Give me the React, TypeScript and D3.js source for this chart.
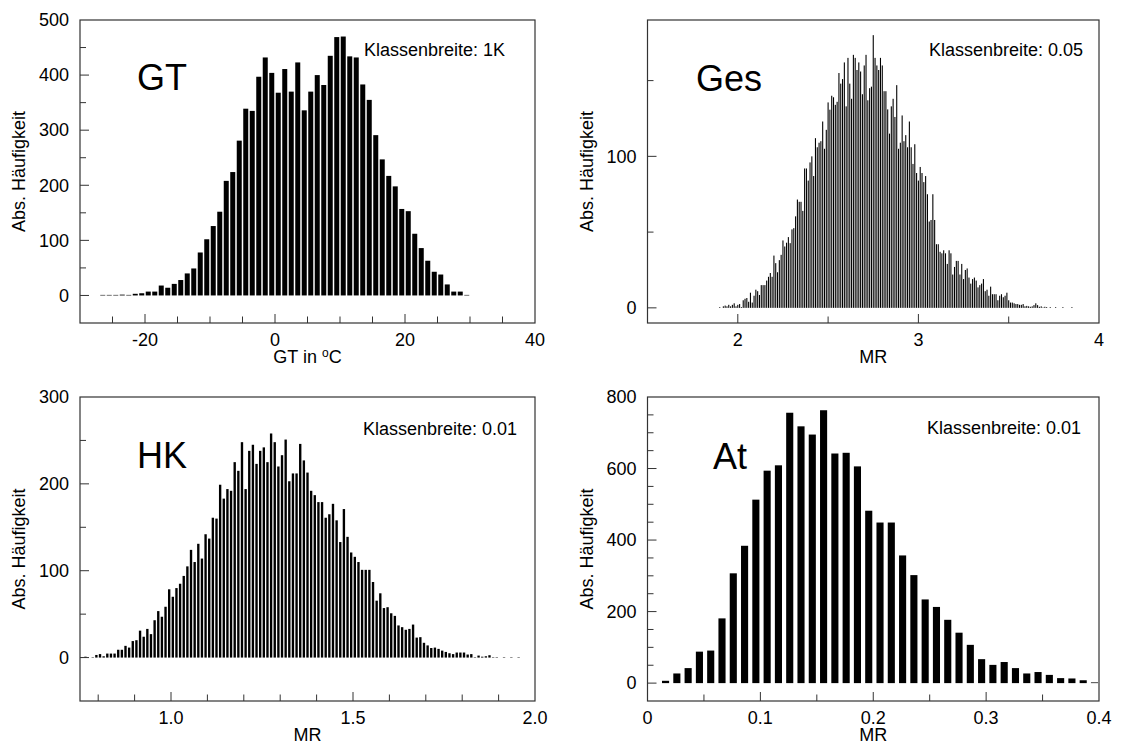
import React from "react";
import * as d3 from "d3";

// ---------- data ----------
const GT_BIN_START = -26.5;
const GT_BIN_WIDTH = 1;
const GT_COUNTS = [
  1, 1, 1, 1.5, 1, 3, 4, 7, 7, 18, 14, 21, 28, 40, 49, 78, 102, 126, 152, 208,
  224, 281, 339, 335, 397, 432, 404, 368, 411, 370, 423, 336, 370, 400, 382, 435,
  469, 470, 434, 432, 383, 355, 291, 247, 217, 198, 157, 153, 112, 86, 63, 43, 38,
  20, 7, 7, 1,
];

const GES_BIN_START = 1.9;
const GES_BIN_WIDTH = 0.01;
const GES_COUNTS = [
  0.5, 0, 1, 1.5, 1, 2, 1,
  2, 3, 1, 2, 2.5, 0.5, 5, 6, 6.5, 4, 10, 3.5, 8, 12, 11, 8.5, 15, 15, 15, 18,
  20.5, 23, 20.5, 34.5, 29.5, 23.5, 31.5, 35, 44.5, 40.5, 43, 46.7, 42.7, 51.8,
  52.6, 60.4, 71.5, 70, 70, 64, 92, 92, 84, 96, 100, 87, 112, 106, 109, 110, 123,
  105, 117.5, 135.6, 130.8, 140,
  139, 134, 136, 155, 148, 151, 162, 133, 165, 148, 138, 167, 165, 157, 162, 156,
  141, 160, 167, 137, 145, 146, 180, 165, 160, 157, 165, 160, 143, 143, 131, 115,
  133, 138, 126, 147, 105, 109, 127, 110, 114, 106, 123, 106, 95, 108, 89, 84, 93,
  89, 83, 87,
  75, 57, 58, 75, 58, 42, 42, 37, 36, 38, 36, 29, 38, 36, 22, 27, 31, 31, 22, 29,
  19, 25, 26, 20, 16, 19, 20, 18, 13.5, 15, 16, 19, 11, 12, 8, 14, 9, 9, 9, 5, 8,
  9, 7, 8, 10, 5, 3.5, 3.5, 3, 2.5, 2.5, 2, 2, 2.5, 1, 1.3, 1, 0.7, 1, 1.8, 3, 1.8,
  0.7, 1, 0.3, 0.7, 0.5,
  0, 0.5, 0, 0, 0.5, 0, 0, 0, 0.5, 0, 0, 0, 0, 0.5,
];

const HK_BIN_START = 0.755;
const HK_BIN_WIDTH = 0.01;
const HK_COUNTS = [
  0.5, 1, 0, 0.5, 3, 4, 1.5, 4.6, 4.6, 4.6, 9, 9, 13.5, 11.5, 19, 20, 31, 24, 33,
  27, 43, 53.5, 47, 58.5, 78.6, 70, 80, 85, 94, 105, 124, 110, 131, 114, 142, 137,
  161, 160, 199, 183, 194, 192, 225, 215, 248, 194, 238, 245, 223, 238, 242, 225,
  258, 248, 220, 233, 251, 203, 212, 212, 246,
  227, 213, 192, 187, 179, 179, 161, 165, 177, 158, 133, 171, 139, 121, 116, 110,
  101, 101, 101, 87, 65.5, 74, 57, 58, 51, 48, 37, 35, 32, 33, 38, 23, 23.5, 17,
  14, 11, 11.5, 10, 8, 6.5, 5, 4, 5.8, 5.8, 5.8, 3.5, 4, 0.5, 2.3, 1, 1.5, 2.7,
  0.5, 0.5, 0, 0.5, 0, 0.5, 0, 0.5,
];

const AT_BIN_START = 0.016;
const AT_BIN_WIDTH = 0.01;
const AT_COUNTS = [
  6.5, 27, 42, 88, 91, 181, 307, 384, 513, 594, 609, 756, 718, 695, 763, 642, 644,
  606, 482, 449, 449, 357, 302, 234, 213, 177, 141, 107, 67, 51, 59, 42, 27, 31,
  23, 14, 13, 8, 2,
];

const GT_X_TICKS = [-25, -20, -15, -10, -5, 0, 5, 10, 15, 20, 25, 30, 35];
const GT_X_LABELS = [-20, 0, 20, 40];
const GT_Y_TICKS = [0, 50, 100, 150, 200, 250, 300, 350, 400, 450];
const GT_Y_LABELS = [0, 100, 200, 300, 400, 500];

const GES_X_TICKS = [2, 2.5, 3, 3.5];
const GES_X_LABELS = [2, 3, 4];
const GES_Y_TICKS = [0, 50, 100, 150];
const GES_Y_LABELS = [0, 100];

const HK_X_TICKS = [0.8, 0.9, 1.0, 1.1, 1.2, 1.3, 1.4, 1.5, 1.6, 1.7, 1.8, 1.9];
const HK_X_LABELS = [1.0, 1.5, 2.0];
const HK_Y_TICKS = [0, 50, 100, 150, 200, 250];
const HK_Y_LABELS = [0, 100, 200, 300];

const AT_X_TICKS = [0.05, 0.1, 0.15, 0.2, 0.25, 0.3, 0.35];
const AT_X_LABELS = [0, 0.1, 0.2, 0.3, 0.4];
const AT_Y_TICKS = [0, 50, 100, 150, 200, 250, 300, 350, 400, 450, 500, 550, 600, 650, 700, 750];
const AT_Y_LABELS = [0, 200, 400, 600, 800];

// ---------- layout ----------
const FONT = "'Liberation Sans', Arial, Helvetica, sans-serif";
const FS = 18;

type Cfg = {
  name: string;
  classText: string;
  classRight: number;
  classBase: number;
  nameX: number;
  nameBase: number;
  x0: number; x1: number; y0: number; y1: number;
  xDomain: [number, number];
  yDomain: [number, number];
  start: number; width: number; counts: number[]; barFrac: number;
  xTicks: number[]; xLabels: number[]; xFmt: (v: number) => string;
  yTicks: number[]; yLabels: number[];
  xTitle: React.ReactNode;
};

const fmtInt = (v: number) => String(v);
const fmt1 = (v: number) => v.toFixed(1);
const fmtAt = (v: number) => (v === 0 ? "0" : String(v));

const panels: Cfg[] = [
  {
    name: "GT", classText: "Klassenbreite: 1K", classRight: 505, classBase: 56,
    nameX: 137, nameBase: 90,
    x0: 80, x1: 535, y0: 20, y1: 323,
    xDomain: [-30, 40], yDomain: [-50, 500],
    start: GT_BIN_START, width: GT_BIN_WIDTH, counts: GT_COUNTS, barFrac: 0.77,
    xTicks: GT_X_TICKS, xLabels: GT_X_LABELS, xFmt: fmtInt,
    yTicks: GT_Y_TICKS, yLabels: GT_Y_LABELS,
    xTitle: (
      <>
        GT in <tspan fontSize={12} dy={-6}>o</tspan>
        <tspan dy={6}>C</tspan>
      </>
    ),
  },
  {
    name: "Ges", classText: "Klassenbreite: 0.05", classRight: 1083, classBase: 56,
    nameX: 696, nameBase: 91,
    x0: 647.5, x1: 1099, y0: 20, y1: 323,
    xDomain: [1.5, 4], yDomain: [-10, 190],
    start: GES_BIN_START, width: GES_BIN_WIDTH, counts: GES_COUNTS, barFrac: 0.6,
    xTicks: GES_X_TICKS, xLabels: GES_X_LABELS, xFmt: fmtInt,
    yTicks: GES_Y_TICKS, yLabels: GES_Y_LABELS,
    xTitle: "MR",
  },
  {
    name: "HK", classText: "Klassenbreite: 0.01", classRight: 517, classBase: 435,
    nameX: 137, nameBase: 468,
    x0: 80, x1: 535, y0: 397, y1: 701,
    xDomain: [0.75, 2.0], yDomain: [-50, 300],
    start: HK_BIN_START, width: HK_BIN_WIDTH, counts: HK_COUNTS, barFrac: 0.65,
    xTicks: HK_X_TICKS, xLabels: HK_X_LABELS, xFmt: fmt1,
    yTicks: HK_Y_TICKS, yLabels: HK_Y_LABELS,
    xTitle: "MR",
  },
  {
    name: "At", classText: "Klassenbreite: 0.01", classRight: 1081, classBase: 434,
    nameX: 713, nameBase: 469,
    x0: 647.5, x1: 1099, y0: 397, y1: 701,
    xDomain: [0, 0.4], yDomain: [-50, 800],
    start: AT_BIN_START, width: AT_BIN_WIDTH, counts: AT_COUNTS, barFrac: 0.63,
    xTicks: AT_X_TICKS, xLabels: AT_X_LABELS, xFmt: fmtAt,
    yTicks: AT_Y_TICKS, yLabels: AT_Y_LABELS,
    xTitle: "MR",
  },
];

const AXIS = "#333";

function Panel({ c }: { c: Cfg }) {
  const x = d3.scaleLinear().domain(c.xDomain).range([c.x0, c.x1]);
  const y = d3.scaleLinear().domain(c.yDomain).range([c.y1, c.y0]);
  const half = (c.barFrac * c.width) / 2;
  const y0 = y(0);
  const labelSet = new Set(c.yLabels);
  const xLabelSet = new Set(c.xLabels.map((v) => v.toFixed(4)));
  return (
    <g>
      {c.counts.map((v, i) => {
        if (v <= 0) return null;
        const ctr = c.start + i * c.width;
        const xl = x(ctr - half);
        const w = x(ctr + half) - xl;
        const yt = y(v);
        return <rect key={i} x={xl} y={yt} width={w} height={y0 - yt} fill="#000" />;
      })}
      <rect x={c.x0} y={c.y0} width={c.x1 - c.x0} height={c.y1 - c.y0} fill="none" stroke={AXIS} strokeWidth={1.2} />
      {c.yTicks.map((t) => (
        <line key={"yt" + t} x1={c.x0} x2={c.x0 + (labelSet.has(t) ? 9 : 6)} y1={y(t)} y2={y(t)} stroke={AXIS} strokeWidth={1} />
      ))}
      {c.xTicks.map((t) => (
        <line key={"xt" + t} x1={x(t)} x2={x(t)} y1={c.y1} y2={c.y1 - (xLabelSet.has(t.toFixed(4)) ? 9 : 6.5)} stroke={AXIS} strokeWidth={1} />
      ))}
      {c.yLabels.map((t) => (
        <text key={"yl" + t} x={c.x0 - 11} y={y(t)} dy="0.35em" textAnchor="end" fontSize={FS} fontFamily={FONT} fill="#000">
          {t}
        </text>
      ))}
      {c.xLabels.map((t) => (
        <text key={"xl" + t} x={x(t)} y={c.y1 + 23} textAnchor="middle" fontSize={FS} fontFamily={FONT} fill="#000">
          {c.xFmt(t)}
        </text>
      ))}
      <text x={(c.x0 + c.x1) / 2} y={c.y1 + 40} textAnchor="middle" fontSize={FS} fontFamily={FONT} fill="#000">
        {c.xTitle}
      </text>
      <text
        transform={`translate(${c.x0 - 55},${(c.y0 + c.y1) / 2}) rotate(-90)`}
        textAnchor="middle" fontSize={FS} fontFamily={FONT} fill="#000"
      >
        Abs. Häufigkeit
      </text>
      <text x={c.nameX} y={c.nameBase} fontSize={36} fontFamily={FONT} fill="#000">
        {c.name}
      </text>
      <text x={c.classRight} y={c.classBase} textAnchor="end" fontSize={FS} fontFamily={FONT} fill="#000">
        {c.classText}
      </text>
    </g>
  );
}

export default function App() {
  return (
    <svg
      width={1122}
      height={744}
      viewBox="0 0 1122 744"
      style={{ position: "absolute", left: 0, top: 0, background: "#fff" }}
    >
      <rect x={0} y={0} width={1122} height={744} fill="#fff" />
      {panels.map((p) => (
        <Panel key={p.name} c={p} />
      ))}
    </svg>
  );
}
